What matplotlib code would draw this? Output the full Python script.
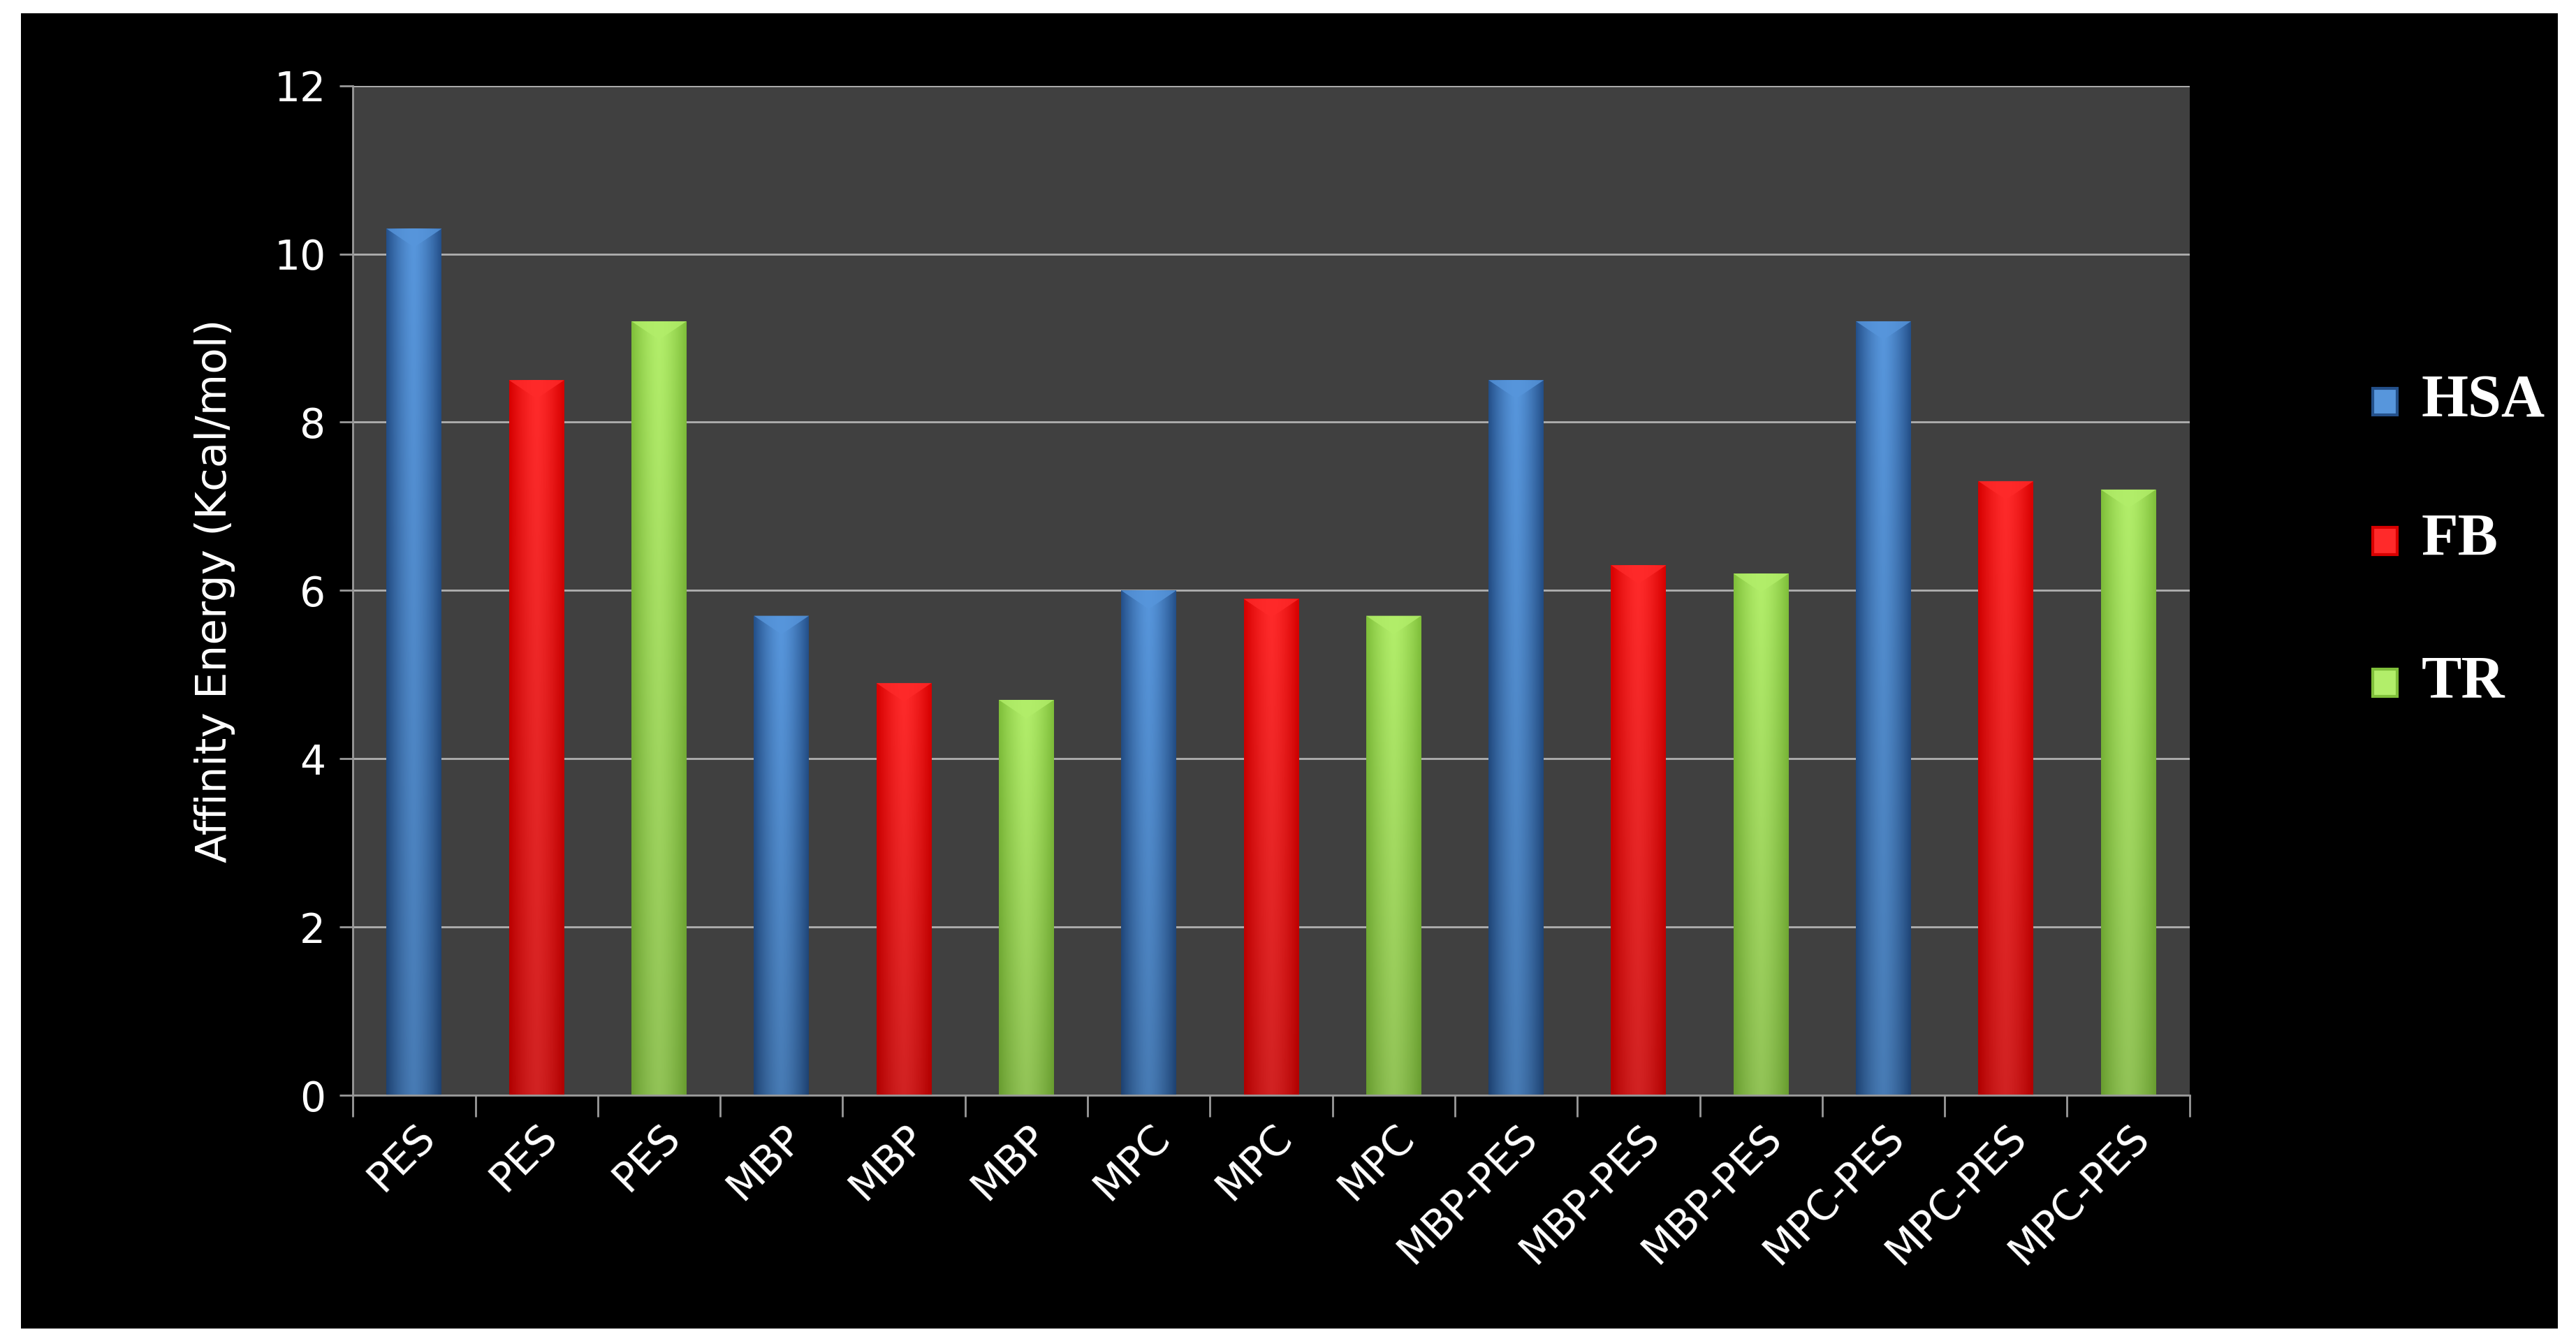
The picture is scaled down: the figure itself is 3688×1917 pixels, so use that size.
import matplotlib.pyplot as plt
import matplotlib.patches as patches
import numpy as np

categories = ['PES', 'PES', 'PES', 'MBP', 'MBP', 'MBP', 'MPC', 'MPC', 'MPC',
              'MBP-PES', 'MBP-PES', 'MBP-PES', 'MPC-PES', 'MPC-PES', 'MPC-PES']
values = [10.3, 8.5, 9.2, 5.7, 4.9, 4.7, 6.0, 5.9, 5.7, 8.5, 6.3, 6.2, 9.2, 7.3, 7.2]
series = ['HSA', 'FB', 'TR']
# edge, centre colours for the cylinder-like shading
shades = {'HSA': ('#24508a', '#5796dc'),
          'FB': ('#d80000', '#ff2a2a'),
          'TR': ('#7fbf3a', '#b2ee6a')}

fig = plt.figure(figsize=(36.88, 19.17), dpi=100, facecolor='white')
bg = fig.add_axes([0.008, 0.008, 0.985, 0.982])
bg.set_facecolor('black'); bg.set_xticks([]); bg.set_yticks([])
for s in bg.spines.values():
    s.set_visible(False)

ax = fig.add_axes([0.137, 0.182, 0.713, 0.754])
ax.set_facecolor('#404040')
ax.set_ylim(0, 12)
ax.set_xlim(-0.5, len(values) - 0.5)
ax.set_yticks(range(0, 13, 2))
ax.yaxis.grid(True, color='#b0b0b0', linewidth=2)
ax.set_axisbelow(True)
for name in ['top', 'right']:
    ax.spines[name].set_visible(False)
for name in ['left', 'bottom']:
    ax.spines[name].set_color('#9a9a9a'); ax.spines[name].set_linewidth(2)

w = 0.45
for i, v in enumerate(values):
    key = series[i % 3]
    edge, centre = shades[key]
    rect = patches.Rectangle((i - w / 2, 0), w, v, facecolor=centre, edgecolor='none')
    ax.add_patch(rect)
    # gradient: dark edges, light centre, a bit darker towards the base
    t = np.linspace(-1, 1, 64)
    a = np.abs(t) ** 1.5
    c0 = np.array(plt.matplotlib.colors.to_rgb(centre))
    c1 = np.array(plt.matplotlib.colors.to_rgb(edge))
    row = (1 - a)[:, None] * c0 + a[:, None] * c1
    yy = np.linspace(1.0, 0.82, 64)  # top row first
    img = row[None, :, :] * yy[:, None, None]
    im = ax.imshow(img, extent=(i - w / 2, i + w / 2, 0, v),
                   aspect='auto', zorder=2)
    im.set_clip_path(rect)
    # bevelled top
    cap = patches.Polygon([(i - w / 2, v), (i + w / 2, v), (i, v - 0.22)],
                          closed=True, facecolor=centre, edgecolor='none',
                          alpha=0.8, zorder=3)
    ax.add_patch(cap)

ax.set_xticks(np.arange(len(values)))
ax.set_xticklabels(categories, rotation=45, ha='right', rotation_mode='anchor',
                   color='white', fontsize=42)
ax.set_xticks(np.arange(-0.5, len(values)), minor=True)
ax.tick_params(axis='x', which='major', length=0, pad=22)
ax.tick_params(axis='x', which='minor', length=22, width=2, color='#9a9a9a')
ax.tick_params(axis='y', colors='white', labelsize=42, length=14, width=2, pad=14)
ax.tick_params(axis='y', color='#9a9a9a')
ax.set_ylabel('Affinity Energy (Kcal/mol)', color='white', fontsize=44, labelpad=40)

# legend
for k, (name, y) in enumerate(zip(series, [0.70, 0.596, 0.49])):
    edge, centre = shades[name]
    fig.patches.append(patches.Rectangle((0.921, y - 0.01), 0.0095, 0.02,
                                         transform=fig.transFigure,
                                         facecolor=centre, edgecolor=edge, linewidth=3))
    fig.text(0.940, y, name, color='white', fontsize=62, fontweight='bold',
             family='Liberation Serif', va='center', ha='left')

fig.savefig('out.png', dpi=100, facecolor='white')
